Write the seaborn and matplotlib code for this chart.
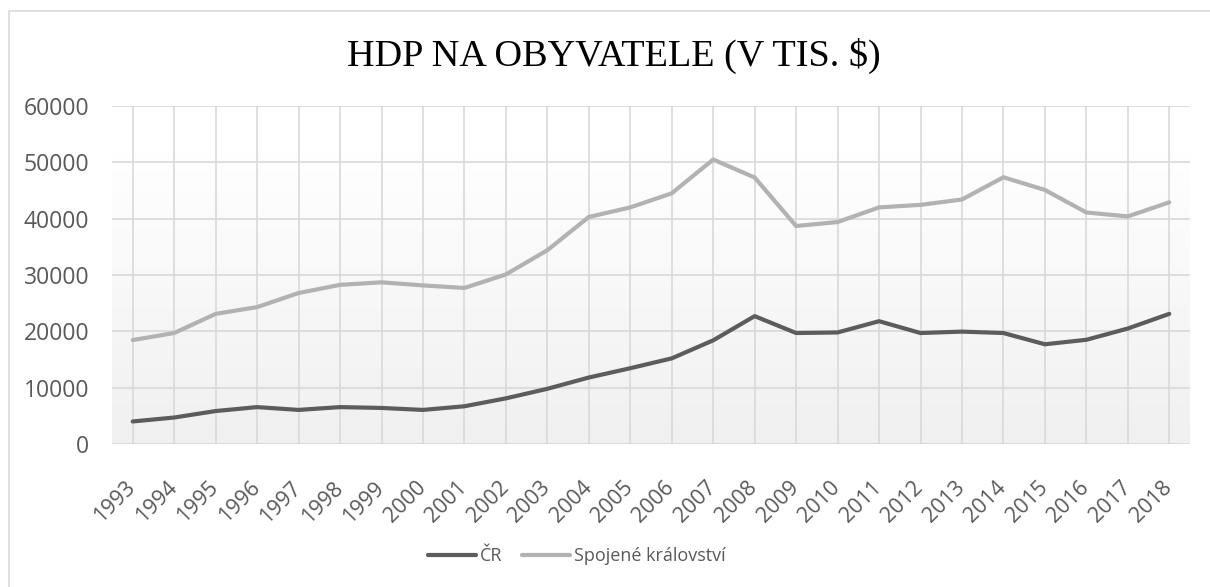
import numpy as np
import pandas as pd
import matplotlib
matplotlib.use("Agg")
import matplotlib.pyplot as plt
import matplotlib.transforms as mtransforms
import seaborn as sns
from matplotlib.colors import LinearSegmentedColormap
from matplotlib.patches import Rectangle

years = [str(y) for y in range(1993, 2019)]
cr = [4000, 4700, 5850, 6550, 6050, 6550, 6400, 6050, 6700, 8100, 9800, 11800,
      13450, 15200, 18400, 22700, 19700, 19800, 21800, 19700, 19950, 19700,
      17700, 18500, 20500, 23100]
uk = [18450, 19700, 23100, 24300, 26800, 28250, 28700, 28150, 27700, 30100,
      34400, 40300, 42000, 44500, 50500, 47300, 38700, 39400, 42000, 42450,
      43400, 47350, 45100, 41100, 40400, 42900]
series_names = ["ČR", "Spojené království"]
title = "HDP NA OBYVATELE (V TIS. $)"

df = pd.DataFrame({"Rok": years, series_names[0]: cr, series_names[1]: uk})
long = df.melt(id_vars="Rok", var_name="Země", value_name="HDP")

sns.set_theme(style="white")
plt.rcParams["font.family"] = ["Open Sans", "DejaVu Sans"]

fig = plt.figure(figsize=(12.1, 5.87), dpi=100)
ax = fig.add_axes([112/1210, 1 - 444/587, (1190-112)/1210, (444-106)/587])

# gradient background
grad = np.linspace(0, 1, 256).reshape(-1, 1)
cmap = LinearSegmentedColormap.from_list("g", ["#f0f0f0", "#ffffff"])
ax.imshow(grad, aspect="auto", cmap=cmap, origin="lower",
          extent=(-0.5, 25.5, 0, 52000), zorder=0)

sns.lineplot(data=long, x="Rok", y="HDP", hue="Země", ax=ax,
             palette=["#5c5c5c", "#b2b2b2"], linewidth=3.0,
             sort=False, legend=True, zorder=3)

ax.set_xlim(-0.5, 25.5)
ax.set_ylim(0, 60000)
ax.set_yticks(range(0, 60001, 10000))
ax.set_xticks(range(len(years)))
ax.set_xticklabels(years, rotation=45, ha="right", va="top")
ax.grid(True, axis="both", color="#d9d9d9", linewidth=1.2, zorder=1)
ax.set_axisbelow(True)
for s in ax.spines.values():
    s.set_visible(False)
ax.tick_params(axis="both", length=0, colors="#595959")
ax.tick_params(axis="y", pad=16.5, labelsize=16.5)
ax.tick_params(axis="x", pad=24, labelsize=15.5)
shift = mtransforms.ScaledTranslation(7/100, 0, fig.dpi_scale_trans)
for lab in ax.get_xticklabels():
    lab.set_transform(lab.get_transform() + shift)
ax.set_xlabel("")
ax.set_ylabel("")
ax.set_facecolor("none")

fig.text(613.5/1210, 1 - 56/587, title, ha="center", va="center",
         fontsize=27.5, family="Liberation Serif", color="black")

leg = ax.legend(handles=ax.get_legend().legend_handles, labels=series_names,
                loc="center", bbox_to_anchor=((576.5-112)/1078, -(556-444)/(444-106)),
                ncol=2, frameon=False, fontsize=13, handlelength=2.66,
                handletextpad=0.2, columnspacing=1.1, labelcolor="#595959")
for h in leg.get_lines():
    h.set_linewidth(3.0)

fig.add_artist(Rectangle((9/1210, -0.1), 1.2, 1 - 11/587 + 0.1,
                         transform=fig.transFigure, fill=False,
                         edgecolor="#d9d9d9", linewidth=1.2))

fig.savefig("out.png", dpi=100)
